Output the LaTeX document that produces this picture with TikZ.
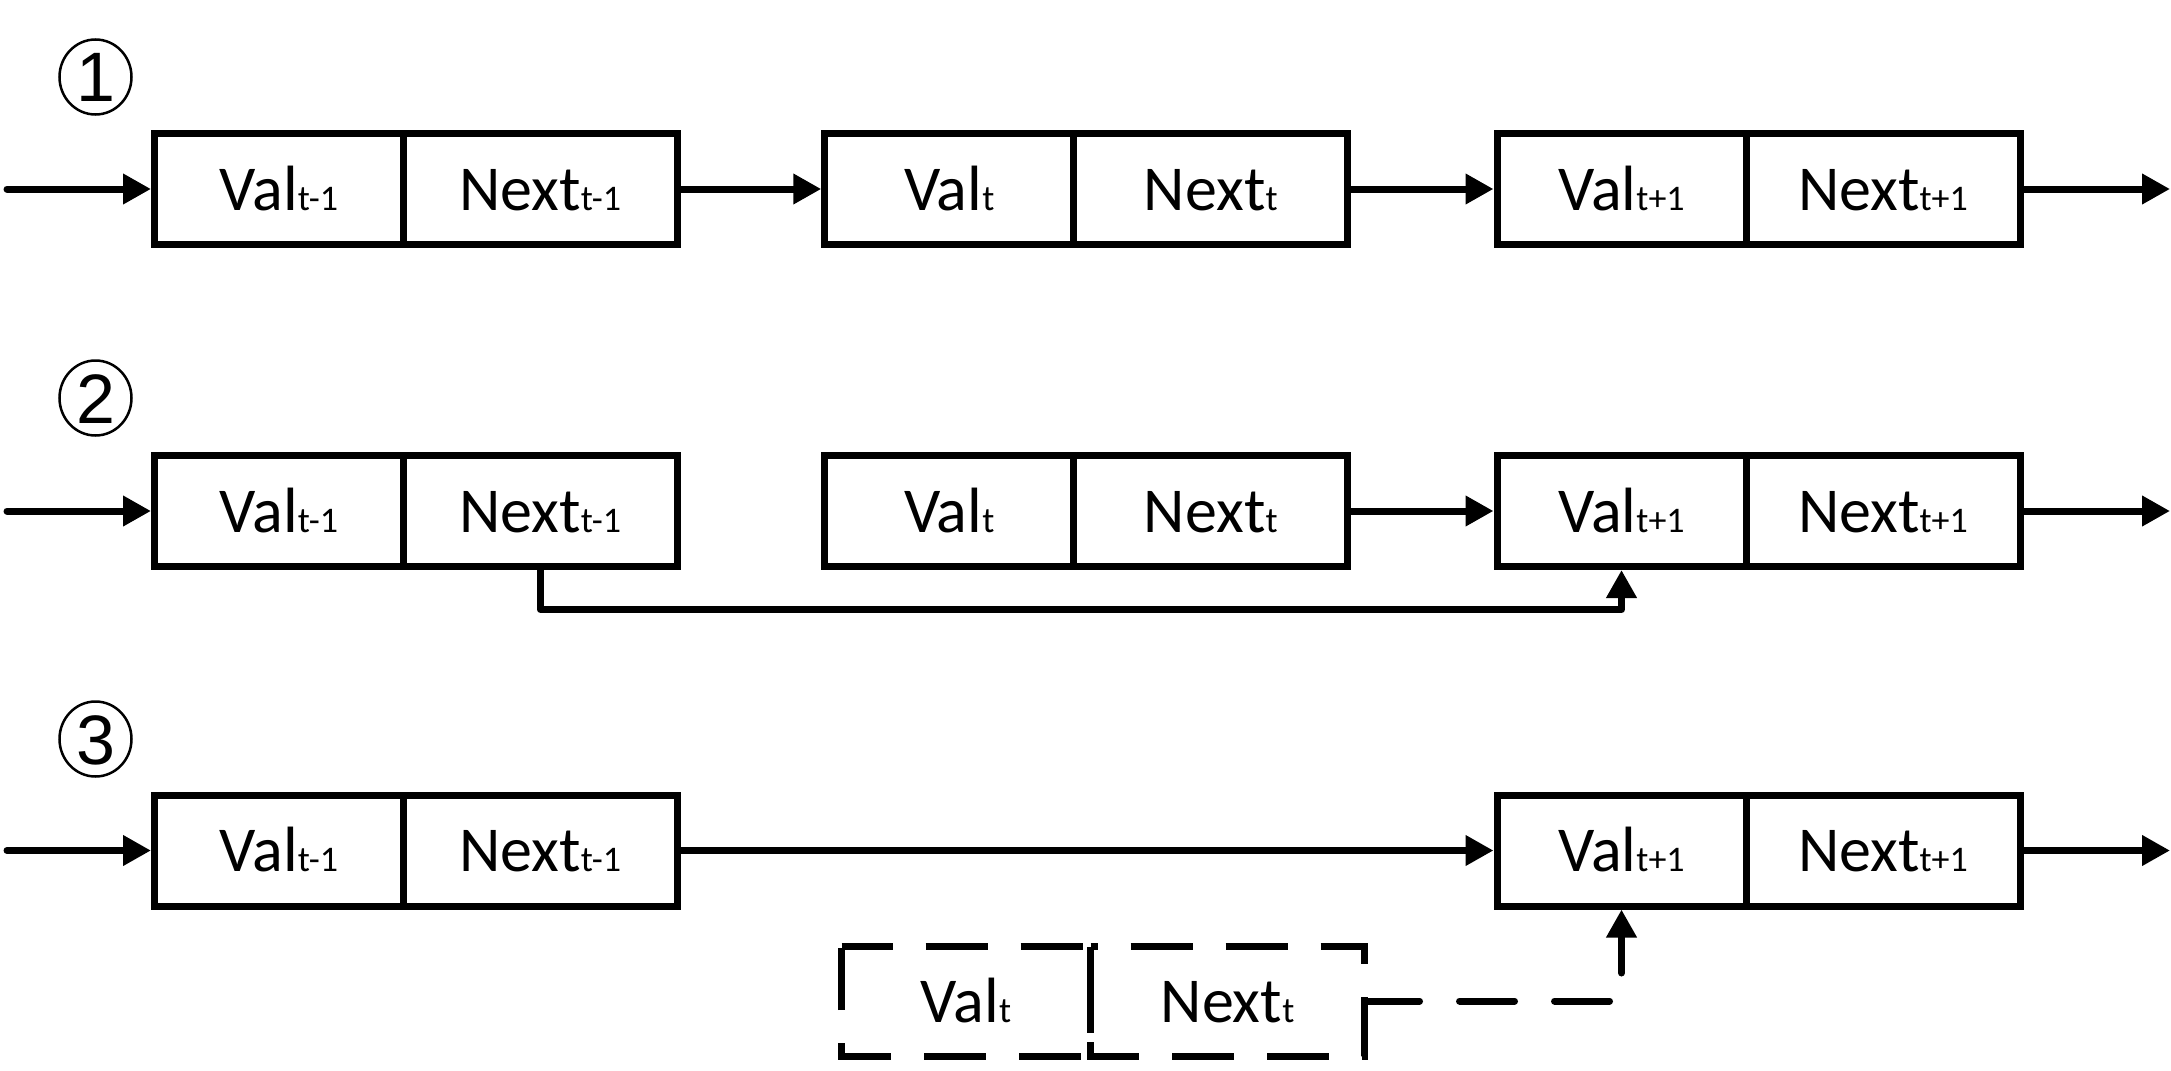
\documentclass[tikz,border=0pt]{standalone}
\usepackage{fontspec}
\setmainfont{Carlito}
\newfontfamily\digitfont{Liberation Sans}
\usetikzlibrary{arrows.meta,shapes.geometric}
\newcommand{\cell}[2]{\fontsize{32}{32}\selectfont #1{\fontsize{18}{18}\selectfont #2}}
\begin{document}
\begin{tikzpicture}[x=0.5pt,y=-0.5pt,
  cellbox/.style={draw, line width=3.5pt, minimum height=55.5pt, inner sep=0pt, text height=21pt, text depth=0pt},
  valbox/.style={cellbox, minimum width=124.5pt},
  nextbox/.style={cellbox, minimum width=137pt},
  dval/.style={valbox, draw=none, outer sep=0pt, minimum height=55pt},
  dnext/.style={nextbox, draw=none, outer sep=0pt, minimum height=55pt},
  dedge/.style={line width=3.5pt, dash pattern=on 31pt off 16.5pt},
  link/.style={line width=3.5pt, line cap=round, line join=round, -{Triangle[length=14pt,width=14.5pt]}},
  dlink/.style={link, dash pattern=on 27.5pt off 20pt},
  num/.style={ellipse, draw, line width=1.25pt, minimum width=36pt, minimum height=37.5pt, inner sep=0pt,
    text height=25pt, text depth=0pt, font=\digitfont\fontsize{35}{35}\selectfont}
]
\fill[white] (0,0) rectangle (2171,1070);
\useasboundingbox (0,0) rectangle (2171,1070);

% circled numbers
\node[num] (c1) at (95.5,77) {1};
\node[num] (c2) at (95.5,398) {2};
\node[num] (c3) at (95.5,739) {3};

% row 1
\node[valbox] (v1a) at (279,189) {\cell{Val}{t-1}};
\node[nextbox] (n1a) at (540.25,189) {\cell{Next}{t-1}};
\node[valbox] (v2a) at (949.25,189) {\cell{Val}{t}};
\node[nextbox] (n2a) at (1210.75,189) {\cell{Next}{t}};
\node[valbox] (v3a) at (1621.5,189) {\cell{Val}{t+1}};
\node[nextbox] (n3a) at (1883,189) {\cell{Next}{t+1}};
\coordinate (ina) at (7,189);
\coordinate (outa) at (2170,189);
\draw[link] (ina) -- (v1a.west);
\draw[link] (n1a.east) -- (v2a.west);
\draw[link] (n2a.east) -- (v3a.west);
\draw[link] (n3a.east) -- (outa);

% row 2
\node[valbox] (v1b) at (279,511) {\cell{Val}{t-1}};
\node[nextbox] (n1b) at (540.25,511) {\cell{Next}{t-1}};
\node[valbox] (v2b) at (949.25,511) {\cell{Val}{t}};
\node[nextbox] (n2b) at (1210.75,511) {\cell{Next}{t}};
\node[valbox] (v3b) at (1621.5,511) {\cell{Val}{t+1}};
\node[nextbox] (n3b) at (1883,511) {\cell{Next}{t+1}};
\coordinate (inb) at (7,511);
\coordinate (outb) at (2170,511);
\draw[link] (inb) -- (v1b.west);
\draw[link] (n2b.east) -- (v3b.west);
\draw[link] (n3b.east) -- (outb);
\draw[link] (n1b.south) -- ++(0,39.5) -| (v3b.south);

% row 3
\node[valbox] (v1c) at (279,850.5) {\cell{Val}{t-1}};
\node[nextbox] (n1c) at (540.25,850.5) {\cell{Next}{t-1}};
\node[valbox] (v3c) at (1621.5,850.5) {\cell{Val}{t+1}};
\node[nextbox] (n3c) at (1883,850.5) {\cell{Next}{t+1}};
\node[dval] (dv) at (966,1001) {\cell{Val}{t}};
\node[dnext] (dn) at (1227.5,1001) {\cell{Next}{t}};
\draw[dedge, dash phase=5.5pt] (dv.north west) -- (dv.north east) -- (dv.south east) -- (dv.south west) -- cycle;
\draw[dedge, dash phase=27.5pt] (dn.north west) -- (dn.north east) -- (dn.south east) -- (dn.south west) -- cycle;
\coordinate (inc) at (7,850.5);
\coordinate (outc) at (2170,850.5);
\draw[link] (inc) -- (v1c.west);
\draw[link] (n1c.east) -- (v3c.west);
\draw[link] (n3c.east) -- (outc);
\draw[dlink] (dn.east) -| (v3c.south);
\end{tikzpicture}
\end{document}
